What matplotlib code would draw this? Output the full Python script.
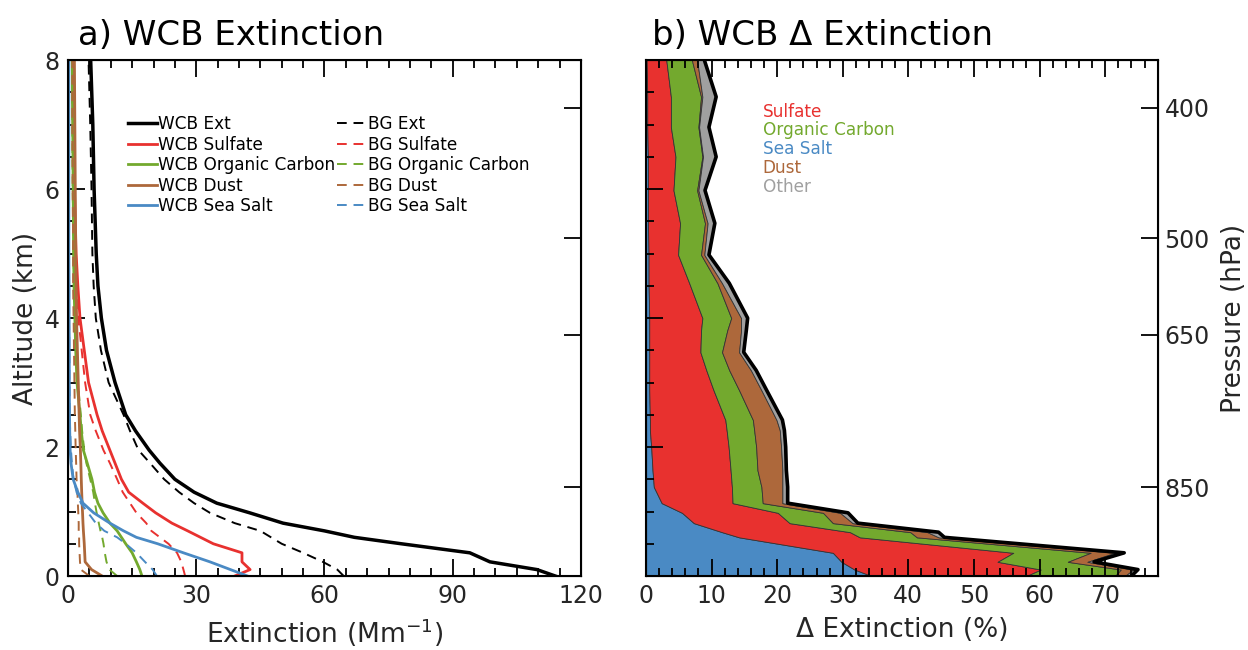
import matplotlib
matplotlib.use('Agg')
import matplotlib.pyplot as plt
import numpy as np
from matplotlib.ticker import MultipleLocator

plt.rcParams['font.family'] = 'DejaVu Sans'
TXT = '#262626'

# ---- panel a: extinction profiles (Mm-1) ----
alt_a = [0, 0.1, 0.22, 0.36, 0.5, 0.6, 0.7, 0.82, 0.98, 1.13, 1.3, 1.5, 1.75,
         1.95, 2.25, 2.5, 3.0, 3.5, 4.0, 4.5, 5.0, 6.0, 7.0, 8.0]

wcb_ext = [114, 109.7, 98.7, 94, 78, 67, 60, 50.3, 42.5, 34.8, 29.5, 25, 21.5,
           19.0, 15.8, 13.5, 11.0, 9.0, 7.8, 7.0, 6.6, 6.1, 5.8, 5.3]
bg_ext = [64.5, 63, 59.6, 55, 50, 47.5, 45, 39, 33.2, 29.5, 26, 22.5, 19.2,
          16.5, 14.5, 13.0, 9.5, 7.7, 6.5, 6.0, 5.7, 5.5, 5.2, 4.8]
wcb_sulf = [39, 42.6, 40.7, 40.7, 34, 31, 28, 24.3, 20.5, 17.5, 14.2, 12.5, 11,
            9.8, 8.0, 6.8, 4.8, 3.8, 2.8, 2.3, 1.9, 1.5, 1.3, 1.1]
bg_sulf = [27.4, 27, 26.5, 25.5, 23.5, 21.5, 19.5, 18.3, 16.0, 14.5, 12.8, 11.5,
           9.8, 8.3, 6.5, 5.2, 4.0, 3.2, 2.4, 2.0, 1.6, 1.3, 1.1, 0.9]
wcb_oc = [17.3, 16.8, 16, 15, 13.5, 12.5, 11.5, 9.8, 8.2, 7.0, 6.2, 5.6, 4.5,
          3.6, 3.1, 2.8, 2.1, 1.8, 1.6, 1.4, 1.3, 1.2, 1.1, 1.0]
bg_oc = [11.5, 9.7, 9.0, 8.6, 8.3, 8.0, 7.6, 7.2, 6.7, 6.3, 5.9, 5.2, 4.3,
         3.8, 3.3, 3.0, 2.3, 1.9, 1.6, 1.4, 1.3, 1.1, 1.0, 0.9]
wcb_dust = [8.0, 5.5, 4.0, 3.9, 3.8, 3.7, 3.6, 3.5, 3.4, 3.3, 3.2, 3.1, 3.0,
            2.9, 2.7, 2.6, 2.4, 2.2, 2.0, 1.9, 1.8, 1.7, 1.6, 1.5]
bg_dust = [5.0, 3.0, 2.8, 2.7, 2.6, 2.6, 2.5, 2.5, 2.4, 2.3, 2.2, 2.0, 1.9,
           1.8, 1.7, 1.6, 1.5, 1.4, 1.3, 1.2, 1.2, 1.1, 1.0, 1.0]
wcb_ss = [42, 38, 33.2, 27, 21, 16, 13, 9.8, 6.0, 3.5, 2.3, 1.2, 0.7,
          0.5, 0.4, 0.35, 0.3, 0.3, 0.25, 0.25, 0.2, 0.2, 0.2, 0.2]
bg_ss = [20.8, 19.8, 18, 16, 13.5, 11.5, 8.5, 6.5, 4.7, 3.0, 2.0, 1.3, 0.9,
         0.7, 0.5, 0.4, 0.35, 0.3, 0.25, 0.25, 0.2, 0.2, 0.2, 0.2]

# ---- panel b: stacked contribution to delta extinction (%) ----
alt_b = [0, 0.1, 0.22, 0.36, 0.6, 0.68, 0.82, 0.98, 1.13, 1.38, 1.64, 2.0, 2.26,
         2.42, 2.88, 3.19, 3.47, 3.81, 4.0, 4.54, 4.98, 5.47, 5.98, 6.5, 6.96,
         7.43, 8.0]
d_seasalt = [34.4, 31.8, 29.8, 28.5, 14.2, 11.6, 7.3, 5.5, 2.4, 1.2, 1.0, 0.8, 0.6,
             0.6, 0.5, 0.5, 0.5, 0.5, 0.5, 0.4, 0.4, 0.3, 0.3, 0.3, 0.2, 0.2, 0.1]
d_sulfate = [23.6, 28.4, 23.8, 27.5, 18.4, 19.5, 14.6, 14.6, 10.8, 11.9, 11.9, 11.8,
             11.7, 11.5, 9.8, 8.7, 7.8, 7.9, 8.1, 6.2, 4.5, 4.9, 3.9, 4.2, 3.6,
             3.6, 3.0]
d_oc = [13.5, 12.2, 10.7, 11.8, 8.7, 9.2, 6.6, 6.9, 4.6, 4.5, 4.1, 4.2, 4.2,
        4.2, 3.9, 3.5, 3.3, 4.0, 4.4, 4.3, 3.5, 3.8, 3.6, 4.1, 4.2, 4.6, 3.9]
d_dust = [1.5, 1.9, 3.0, 3.7, 3.3, 2.6, 3.0, 2.6, 3.0, 3.2, 3.8, 3.8, 3.9,
          3.6, 3.4, 3.3, 2.6, 2.1, 1.5, 0.7, 0.5, 0.4, 0.2, 0.1, 0.1, 0.2, 0.8]
d_other = [1.0, 0.7, 1.0, 1.4, 0.9, 1.7, 0.8, 1.2, 0.8, 0.8, 0.6, 0.7, 0.7,
           0.9, 0.8, 0.8, 0.7, 0.8, 1.0, 1.1, 0.7, 1.1, 1.0, 2.0, 1.5, 2.1, 1.1]

pressure_labels = ['400', '500', '650', '850']
pressure_alt = [7.26, 5.24, 3.74, 1.38]

RED = '#E8312F'
GREEN = '#73A92E'
BROWN = '#AD683B'
BLUE = '#4A8AC4'
GRAY = '#A0A0A0'

fig = plt.figure(figsize=(12.48, 6.5), dpi=100)
ax1 = fig.add_axes([0.0545, 0.1138, 0.411, 0.7938])
ax2 = fig.add_axes([0.5176, 0.1138, 0.410, 0.7938])


def style(ax):
    for s in ax.spines.values():
        s.set_linewidth(1.5)
    ax.tick_params(which='both', direction='in', top=True, width=1.3,
                   labelsize=17, labelcolor=TXT, pad=6)
    ax.tick_params(which='major', length=12)
    ax.tick_params(which='minor', length=6)
    ax.set_ylim(0, 8)
    ax.yaxis.set_major_locator(MultipleLocator(2))
    ax.yaxis.set_minor_locator(MultipleLocator(0.5))


# panel a
series = [
    (wcb_ext, bg_ext, 'k', 'Ext'),
    (wcb_sulf, bg_sulf, RED, 'Sulfate'),
    (wcb_oc, bg_oc, GREEN, 'Organic Carbon'),
    (wcb_dust, bg_dust, BROWN, 'Dust'),
    (wcb_ss, bg_ss, BLUE, 'Sea Salt'),
]
solid_h, dash_h = [], []
for wcb, bg, c, name in series:
    lw = 2.5 if c == 'k' else 2.0
    h1, = ax1.plot(wcb, alt_a, color=c, lw=lw, label='WCB ' + name)
    h2, = ax1.plot(bg, alt_a, color=c, lw=1.4, ls=(0, (5, 3.5)), label='BG ' + name)
    solid_h.append(h1)
    dash_h.append(h2)

style(ax1)
ax1.tick_params(which='both', right=False)
ax1.set_xlim(0, 120)
ax1.xaxis.set_major_locator(MultipleLocator(30))
ax1.xaxis.set_minor_locator(MultipleLocator(5))
ax1.set_xlabel('Extinction (Mm$^{-1}$)', fontsize=19, color=TXT, labelpad=6)
ax1.set_ylabel('Altitude (km)', fontsize=19, color=TXT, labelpad=4)
ax1.text(0.02, 1.015, 'a) WCB Extinction', transform=ax1.transAxes,
         fontsize=24.5, ha='left', va='bottom')
ax1.legend(solid_h + dash_h, [h.get_label() for h in solid_h + dash_h],
           ncol=2, loc='upper left', bbox_to_anchor=(0.1, 0.91), frameon=False,
           fontsize=12.2, handlelength=1.7, handletextpad=0.1,
           columnspacing=0.1, labelspacing=0.15, borderpad=0)

tw1 = ax1.twinx()
tw1.set_ylim(0, 8)
tw1.set_yticks(pressure_alt)
tw1.set_yticklabels([])
tw1.tick_params(direction='in', length=12, width=1.3)
tw1.yaxis.set_minor_locator(plt.NullLocator())

# panel b
comps = [(d_seasalt, BLUE), (d_sulfate, RED), (d_oc, GREEN), (d_dust, BROWN),
         (d_other, GRAY)]
left = np.zeros(len(alt_b))
for vals, c in comps:
    right = left + np.array(vals)
    ax2.fill_betweenx(alt_b, left, right, facecolor=c, edgecolor='#333333',
                      lw=0.6)
    left = right
ax2.plot(left, alt_b, color='k', lw=2.6)

style(ax2)
ax2.tick_params(which='both', right=False)
ax2.set_xlim(0, 78)
ax2.set_yticklabels([])
ax2.xaxis.set_major_locator(MultipleLocator(10))
ax2.xaxis.set_minor_locator(MultipleLocator(2))
ax2.set_xlabel('\u0394 Extinction (%)', fontsize=19, color=TXT, labelpad=6)
ax2.text(0.012, 1.015, 'b) WCB \u0394 Extinction', transform=ax2.transAxes,
         fontsize=24.5, ha='left', va='bottom')

leg_names = ['Sulfate', 'Organic Carbon', 'Sea Salt', 'Dust', 'Other']
leg_cols = [RED, GREEN, BLUE, BROWN, GRAY]
for i, (n, c) in enumerate(zip(leg_names, leg_cols)):
    ax2.text(0.228, 0.9 - i * 0.0363, n, color=c, fontsize=12.2,
             transform=ax2.transAxes, ha='left', va='center')

tw2 = ax2.twinx()
tw2.set_ylim(0, 8)
tw2.set_yticks(pressure_alt)
tw2.set_yticklabels(pressure_labels)
tw2.yaxis.set_minor_locator(plt.NullLocator())
tw2.tick_params(direction='in', length=12, width=1.3, labelsize=17,
                labelcolor=TXT, pad=5)
tw2.set_ylabel('Pressure (hPa)', fontsize=19, color=TXT, labelpad=8)

fig.savefig('out.png', dpi=100)
